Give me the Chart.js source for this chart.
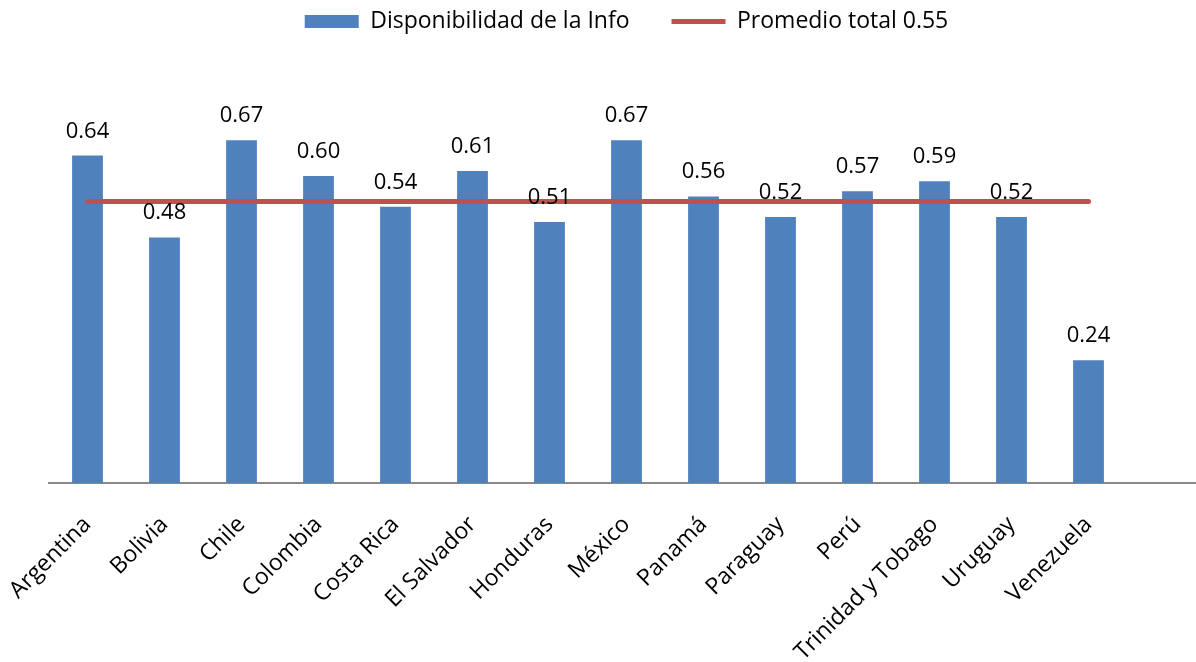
<!DOCTYPE html>
<html>
<head>
<meta charset="utf-8">
<script src="https://cdn.jsdelivr.net/npm/chart.js@4"></script>
<style>
  html, body { margin: 0; padding: 0; background: #fff; overflow: hidden; }
  #wrap { width: 1210px; height: 662px; }
</style>
</head>
<body>
<div id="wrap"><canvas id="chart"></canvas></div>
<script>
const paises = ["Argentina", "Bolivia", "Chile", "Colombia", "Costa Rica", "El Salvador",
  "Honduras", "México", "Panamá", "Paraguay", "Perú", "Trinidad y Tobago", "Uruguay", "Venezuela", ""];
const disponibilidad = [0.64, 0.48, 0.67, 0.60, 0.54, 0.61, 0.51, 0.67, 0.56, 0.52, 0.57, 0.59, 0.52, 0.24, null];
const promedio = [0.55, 0.55, 0.55, 0.55, 0.55, 0.55, 0.55, 0.55, 0.55, 0.55, 0.55, 0.55, 0.55, 0.55, null];

const fuente = "'Open Sans', Lato, sans-serif";

// etiquetas de valor encima de cada barra
const etiquetas = {
  id: "etiquetas",
  afterDatasetsDraw(chart) {
    const ctx = chart.ctx;
    const meta = chart.getDatasetMeta(1);
    ctx.save();
    ctx.font = "22px " + fuente;
    ctx.fillStyle = "#000";
    ctx.textAlign = "center";
    ctx.textBaseline = "alphabetic";
    meta.data.forEach((bar, i) => {
      const v = disponibilidad[i];
      if (v == null) return;
      ctx.fillText(v.toFixed(2), bar.x, bar.y - 18);
    });
    ctx.restore();
  }
};

const ctx = document.getElementById("chart").getContext("2d");
new Chart(ctx, {
  data: {
    labels: paises,
    datasets: [
      {
        type: "line",
        label: "Promedio total 0.55",
        data: promedio,
        borderColor: "#C0504D",
        backgroundColor: "#C0504D",
        borderWidth: 5,
        borderCapStyle: "round",
        pointRadius: 0,
        pointStyle: "line",
        fill: false
      },
      {
        type: "bar",
        label: "Disponibilidad de la Info",
        data: disponibilidad,
        backgroundColor: "#4F81BD",
        borderWidth: 0,
        pointStyle: "rect",
        barPercentage: 0.4,
        categoryPercentage: 1.0
      }
    ]
  },
  options: {
    responsive: true,
    maintainAspectRatio: false,
    animation: false,
    layout: { padding: { left: 49, right: 6, top: -32, bottom: 0 } },
    plugins: {
      legend: {
        position: "top",
        reverse: true,
        labels: {
          usePointStyle: true,
          pointStyleWidth: 54,
          boxHeight: 13,
          padding: 42,
          color: "#000",
          font: { family: fuente, size: 23 }
        }
      },
      tooltip: { enabled: false }
    },
    scales: {
      x: {
        grid: { display: false, drawTicks: false },
        border: { display: true, color: "#898989", width: 2 },
        ticks: {
          color: "#000",
          font: { family: fuente, size: 23 },
          minRotation: 45,
          maxRotation: 45,
          autoSkip: false,
          padding: 28
        },
        afterFit(scale) {
          // las etiquetas pueden salirse del lienzo, como en el original
          scale.height = 179;
          scale.paddingLeft = 0;
          scale.paddingRight = 0;
        }
      },
      y: {
        display: false,
        min: 0,
        max: 0.86
      }
    }
  },
  plugins: [etiquetas]
});
</script>
</body>
</html>
